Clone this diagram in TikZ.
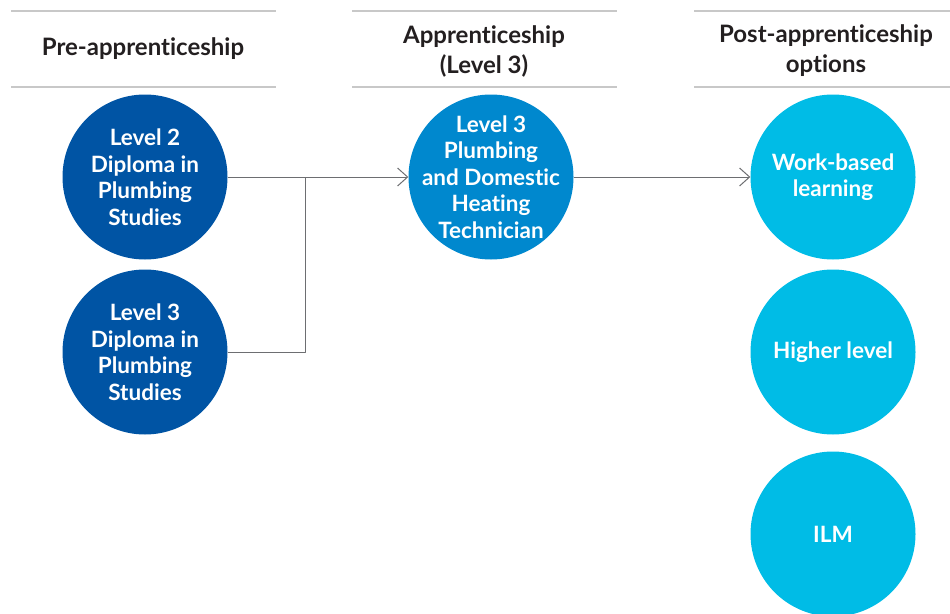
\documentclass[tikz,border=0pt]{standalone}
\usepackage{fontspec}
\setmainfont{Lato}[Ligatures=NoCommon]
\usetikzlibrary{arrows.meta}
\definecolor{darkblue}{HTML}{0054A4}
\definecolor{midblue}{HTML}{0088CE}
\definecolor{lightblue}{HTML}{00BCE6}
\definecolor{rulegray}{HTML}{C8C8C8}
\definecolor{linkgray}{HTML}{6D6E71}
\definecolor{headgray}{HTML}{231F20}
\begin{document}
\begin{tikzpicture}[x=1pt,y=-1pt,line join=round,
	font=\bfseries,
	disc/.style={circle,minimum size=165pt,inner sep=-40pt,text=white,align=center,
		font=\fontsize{22.5}{26.5}\selectfont\bfseries},
	head/.style={text=headgray,align=center,font=\fontsize{24}{30}\selectfont\bfseries},
	rule/.style={draw=rulegray,line width=1.5pt},
	link/.style={draw=linkgray,line width=1pt}]
	\useasboundingbox (0,0) rectangle (950,613);
	\def\r{11} % hang tren
	\def\s{87} % hang duoi
	% cac dong ke tieu de
	\foreach \xa/\xb in {11/276,352/617,694/950}{
		\draw[rule] (\xa,\r)--(\xb,\r) (\xa,\s)--(\xb,\s);
	}
	% tieu de
	\node[head] (hpre) at (143,49) {Pre-apprenticeship};
	\node[head] (happ) at (484,51) {Apprenticeship\\(Level 3)};
	\node[head] (hpost) at (826,51) {Post-apprenticeship\\options};
	% cac hinh tron
	\node[disc,fill=darkblue] (lv2) at (145,177) {Level 2\\Diploma in\\Plumbing\\Studies};
	\node[disc,fill=darkblue] (lv3) at (145,352) {Level 3\\Diploma in\\Plumbing\\Studies};
	\node[disc,fill=midblue] (tech) at (491,177) {Level 3\\Plumbing\\and Domestic\\Heating\\Technician};
	\node[disc,fill=lightblue] (work) at (833,177) {Work-based\\learning};
	\node[disc,fill=lightblue] (high) at (833,352) {Higher level};
	\node[disc,fill=lightblue] (ilm) at (833,534) {ILM};
	% noi cac hinh
	\coordinate (jn) at (305,177);
	\draw[link] (lv2.east)--(jn);
	\draw[link] (lv3.east)-|(jn);
	\draw[link,-{Straight Barb[length=10pt,width=18pt]}] (jn)--(tech.west);
	\draw[link,-{Straight Barb[length=10pt,width=18pt]}] (tech.east)--(work.west);
\end{tikzpicture}
\end{document}
